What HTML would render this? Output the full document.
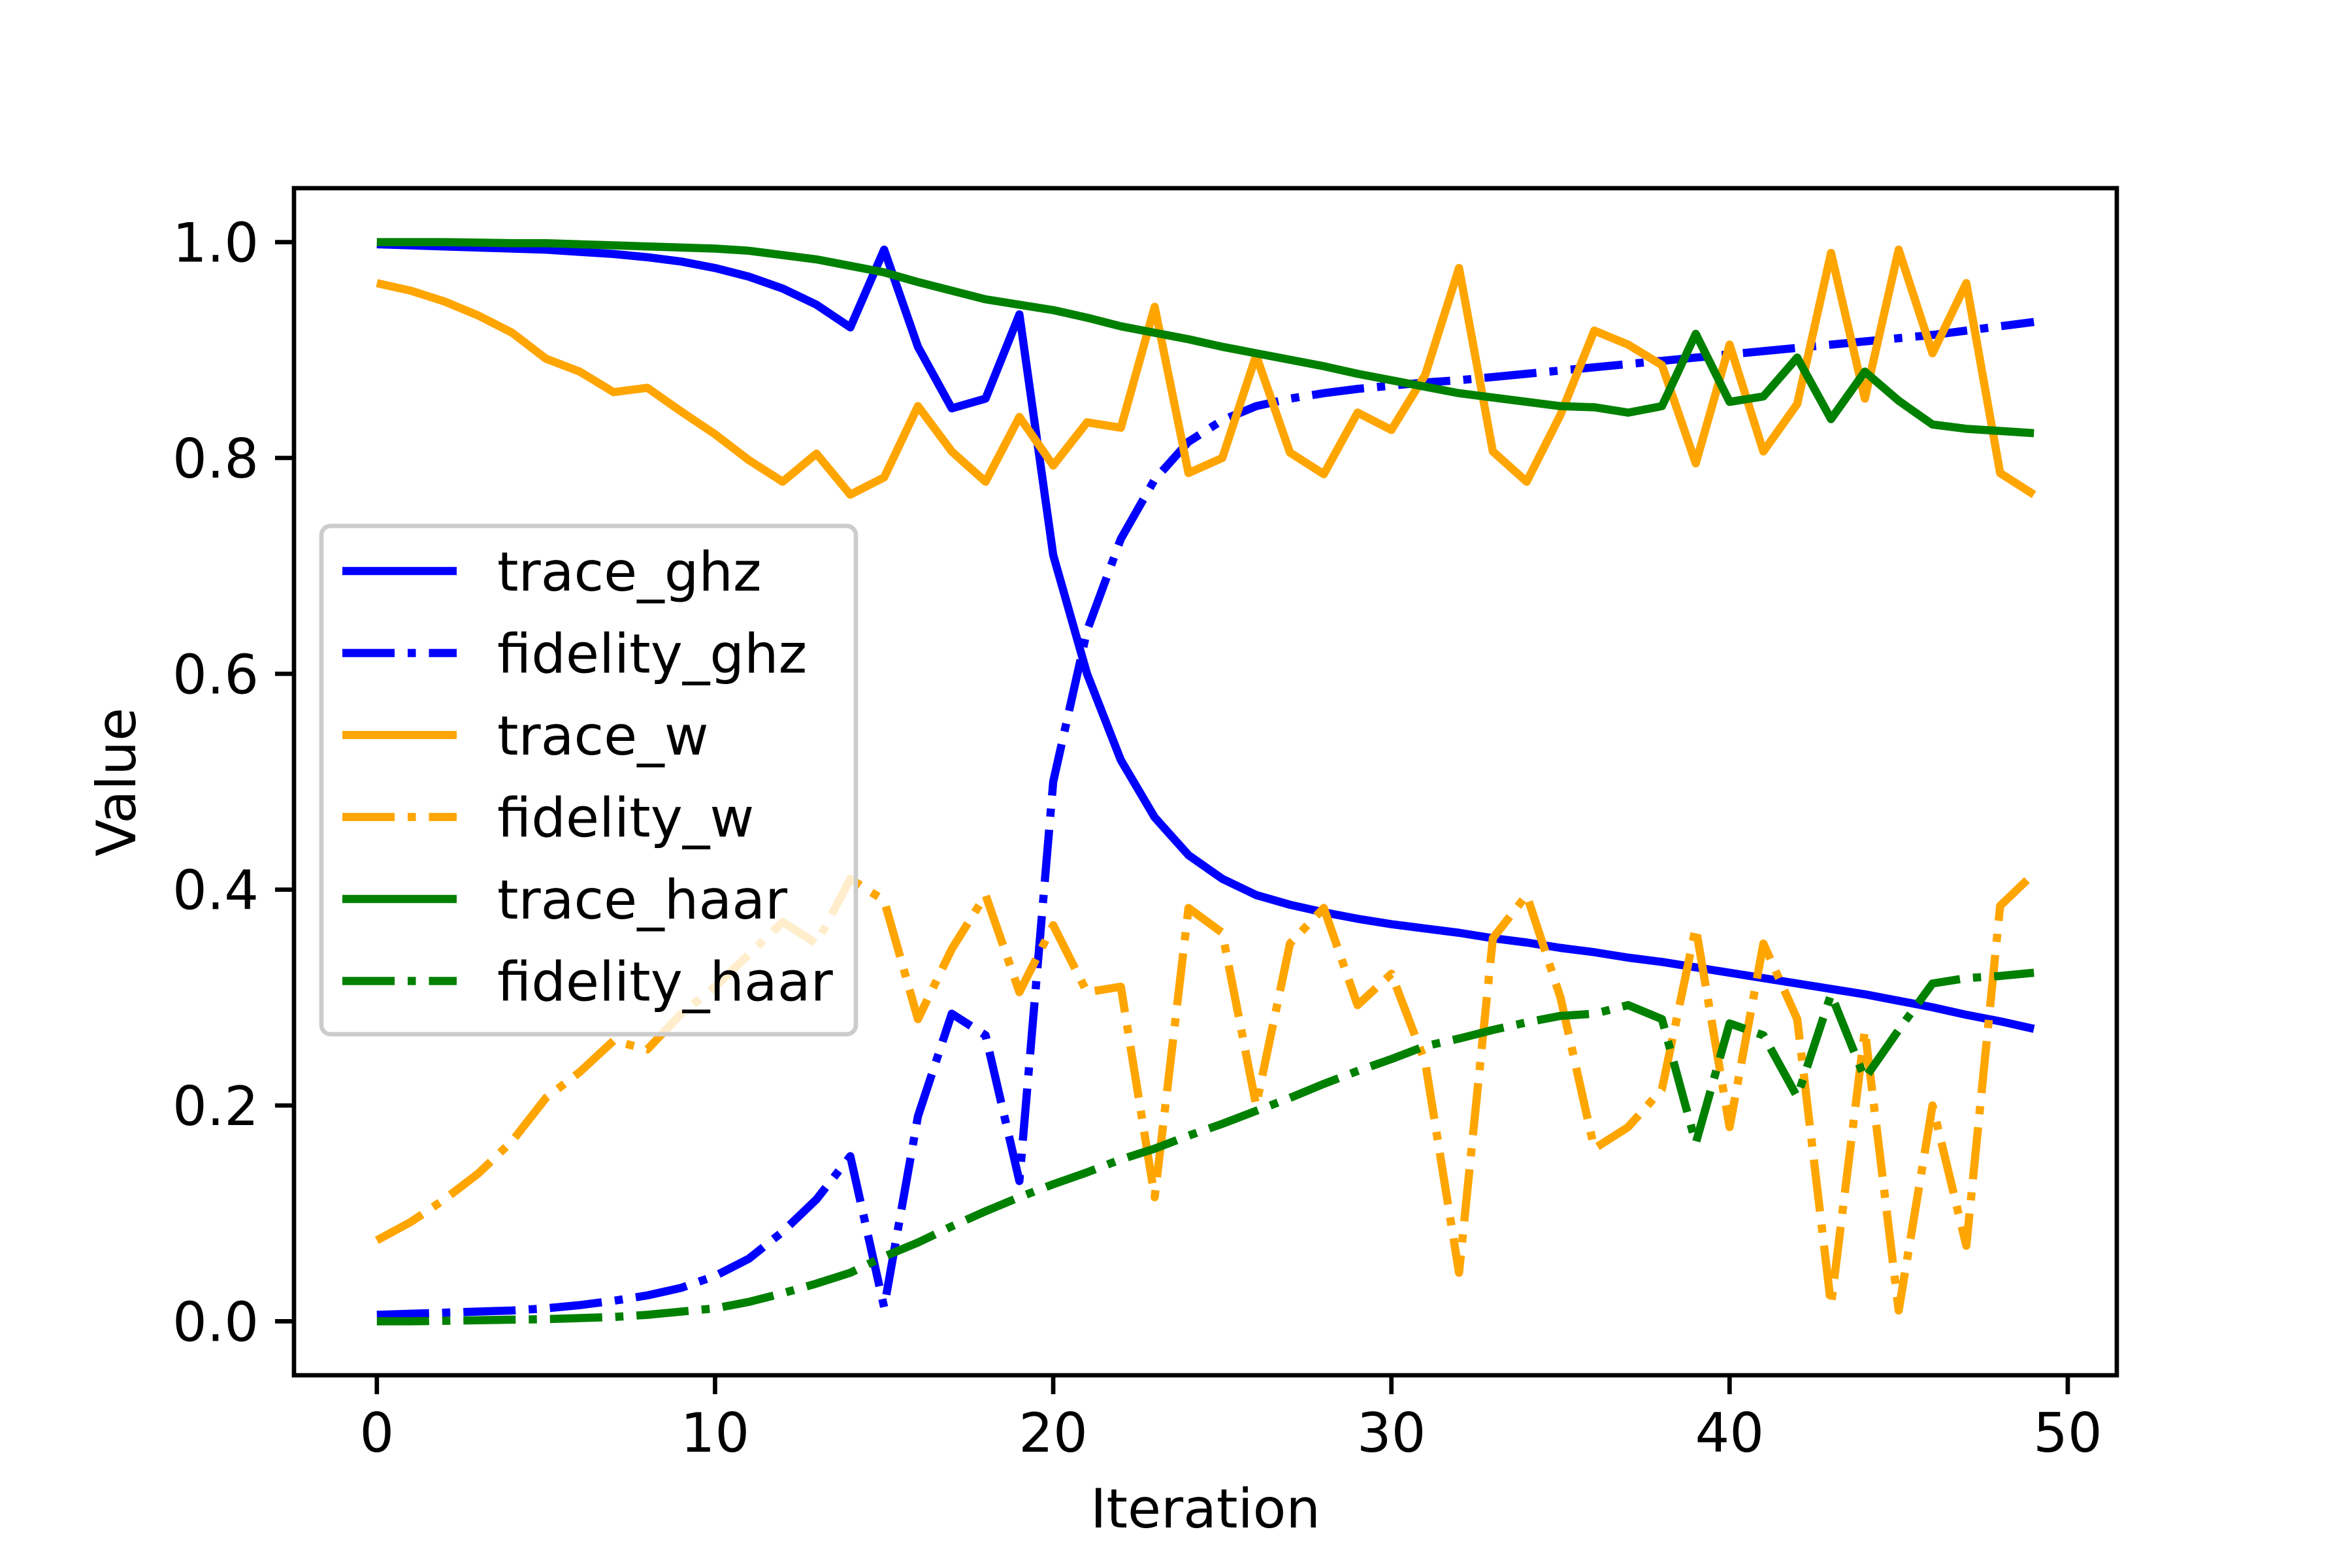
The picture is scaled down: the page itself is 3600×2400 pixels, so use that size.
<!DOCTYPE html>
<html><head><meta charset="utf-8"><style>
html,body{margin:0;padding:0;background:#fff;}
svg{display:block;font-family:"DejaVu Sans","Liberation Sans",sans-serif;}
</style></head><body>
<svg id="chart" width="3600" height="2400" viewBox="0 0 3600 2400" xmlns="http://www.w3.org/2000/svg">
<rect x="0" y="0" width="3600" height="2400" fill="#fff"/>
<g id="plot"></g>
<rect x="450" y="288" width="2790" height="1817" fill="none" stroke="#000" stroke-width="6.7"/>
<g id="ticks"></g>
<text x="1845" y="2338" font-size="83" text-anchor="middle">Iteration</text>
<text x="207" y="1197" font-size="83" text-anchor="middle" transform="rotate(-90 207 1197)">Value</text>
<g id="legend"></g>
</svg>
<script>
const iterations = Array.from({length:50},(_,i)=>i);
const traceGhz = [0.998,0.997,0.996,0.995,0.994,0.993,0.991,0.989,0.986,0.982,0.976,0.968,0.957,0.942,0.921,0.993,0.903,0.846,0.855,0.933,0.71,0.6,0.52,0.467,0.432,0.41,0.395,0.386,0.379,0.373,0.368,0.364,0.36,0.355,0.351,0.346,0.342,0.337,0.333,0.328,0.323,0.318,0.313,0.308,0.303,0.297,0.291,0.284,0.278,0.271];
const fidelityGhz = [0.006,0.007,0.008,0.009,0.01,0.012,0.015,0.019,0.024,0.031,0.042,0.058,0.083,0.113,0.153,0.013,0.19,0.285,0.265,0.13,0.5,0.64,0.725,0.78,0.815,0.835,0.848,0.855,0.86,0.864,0.867,0.87,0.872,0.875,0.878,0.881,0.884,0.887,0.89,0.893,0.896,0.899,0.902,0.905,0.908,0.911,0.914,0.918,0.922,0.926];
const traceW = [0.962,0.955,0.945,0.932,0.916,0.892,0.88,0.861,0.865,0.843,0.822,0.798,0.778,0.804,0.766,0.782,0.848,0.806,0.778,0.838,0.793,0.833,0.828,0.94,0.786,0.8,0.895,0.805,0.785,0.842,0.826,0.877,0.976,0.806,0.778,0.84,0.918,0.905,0.886,0.795,0.905,0.806,0.85,0.99,0.855,0.993,0.897,0.962,0.786,0.766];
const fidelityW = [0.075,0.092,0.113,0.137,0.167,0.207,0.231,0.26,0.252,0.285,0.31,0.34,0.37,0.35,0.41,0.39,0.28,0.345,0.395,0.305,0.367,0.305,0.31,0.115,0.383,0.36,0.2,0.35,0.383,0.293,0.322,0.24,0.045,0.355,0.395,0.3,0.16,0.18,0.215,0.365,0.18,0.35,0.28,0.015,0.27,0.01,0.2,0.07,0.385,0.415];
const traceHaar = [1.0,1.0,1.0,0.9995,0.999,0.999,0.998,0.997,0.996,0.995,0.994,0.992,0.988,0.984,0.978,0.972,0.963,0.955,0.947,0.942,0.937,0.93,0.922,0.916,0.91,0.903,0.897,0.891,0.885,0.878,0.872,0.866,0.86,0.856,0.852,0.848,0.847,0.842,0.848,0.915,0.852,0.857,0.893,0.836,0.88,0.853,0.831,0.827,0.825,0.823];
const fidelityHaar = [0,0,0.0005,0.001,0.0015,0.002,0.003,0.004,0.006,0.009,0.012,0.018,0.026,0.035,0.045,0.06,0.073,0.088,0.102,0.115,0.127,0.138,0.15,0.16,0.172,0.183,0.195,0.207,0.22,0.232,0.243,0.255,0.262,0.27,0.277,0.283,0.285,0.293,0.28,0.165,0.276,0.265,0.208,0.303,0.225,0.27,0.313,0.318,0.32,0.323];
const xTicks = [0,10,20,30,40,50];
const yTicks = [0.0,0.2,0.4,0.6,0.8,1.0];
const seriesNames = ["trace_ghz","fidelity_ghz","trace_w","fidelity_w","trace_haar","fidelity_haar"];

const NS="http://www.w3.org/2000/svg";
function xs(v){return 450+(v+2.45)*(2790/53.9);}
function ys(v){return 2105-(v+0.05)*(1817/1.1);}
const DASH="80 20 12.5 20";
const series=[
 {name:seriesNames[0],data:traceGhz,color:"#0000ff",dash:null},
 {name:seriesNames[1],data:fidelityGhz,color:"#0000ff",dash:DASH},
 {name:seriesNames[2],data:traceW,color:"#ffa500",dash:null},
 {name:seriesNames[3],data:fidelityW,color:"#ffa500",dash:DASH},
 {name:seriesNames[4],data:traceHaar,color:"#008000",dash:null},
 {name:seriesNames[5],data:fidelityHaar,color:"#008000",dash:DASH}];
const plot=document.getElementById('plot');
series.forEach(s=>{
 const p=document.createElementNS(NS,'polyline');
 p.setAttribute('points',s.data.map((v,i)=>xs(iterations[i])+','+ys(v)).join(' '));
 p.setAttribute('fill','none');p.setAttribute('stroke',s.color);p.setAttribute('stroke-width','12.5');
 p.setAttribute('stroke-linejoin','round');
 if(s.dash)p.setAttribute('stroke-dasharray',s.dash);
 
 
 plot.appendChild(p);
});
const tg=document.getElementById('ticks');
xTicks.forEach(t=>{
 const l=document.createElementNS(NS,'line');
 l.setAttribute('x1',xs(t));l.setAttribute('x2',xs(t));l.setAttribute('y1',2105);l.setAttribute('y2',2134);
 l.setAttribute('stroke','#000');l.setAttribute('stroke-width','6.7');
 
 
 tg.appendChild(l);
 const tx=document.createElementNS(NS,'text');
 tx.setAttribute('x',xs(t));tx.setAttribute('y',2222);tx.setAttribute('font-size','83');tx.setAttribute('text-anchor','middle');
 tx.textContent=String(t);
 
 
 tg.appendChild(tx);
});
yTicks.forEach(t=>{
 const l=document.createElementNS(NS,'line');
 l.setAttribute('x1',421);l.setAttribute('x2',450);l.setAttribute('y1',ys(t));l.setAttribute('y2',ys(t));
 l.setAttribute('stroke','#000');l.setAttribute('stroke-width','6.7');
 
 
 tg.appendChild(l);
 const tx=document.createElementNS(NS,'text');
 tx.setAttribute('x',396);tx.setAttribute('y',ys(t)+30);tx.setAttribute('font-size','83');tx.setAttribute('text-anchor','end');
 tx.textContent=t.toFixed(1);
 
 
 tg.appendChild(tx);
});
const lg=document.getElementById('legend');
const box=document.createElementNS(NS,'rect');
box.setAttribute('x',492);box.setAttribute('y',805);box.setAttribute('width',818);box.setAttribute('height',778);
box.setAttribute('rx',14);box.setAttribute('fill','#fff');box.setAttribute('fill-opacity','0.8');
box.setAttribute('stroke','#cccccc');box.setAttribute('stroke-width','6.7');


lg.appendChild(box);
series.forEach((s,i)=>{
 const y=874+i*125.5;
 const g=document.createElementNS(NS,'g');
 
 
 const l=document.createElementNS(NS,'line');
 l.setAttribute('x1',524);l.setAttribute('x2',699);l.setAttribute('y1',y);l.setAttribute('y2',y);
 l.setAttribute('stroke',s.color);l.setAttribute('stroke-width','12.5');
 if(s.dash)l.setAttribute('stroke-dasharray',DASH);
 g.appendChild(l);
 const tx=document.createElementNS(NS,'text');
 tx.setAttribute('x',761);tx.setAttribute('y',y+30);tx.setAttribute('font-size','83');
 tx.textContent=s.name;
 g.appendChild(tx);
 lg.appendChild(g);
});
</script>
</body></html>
